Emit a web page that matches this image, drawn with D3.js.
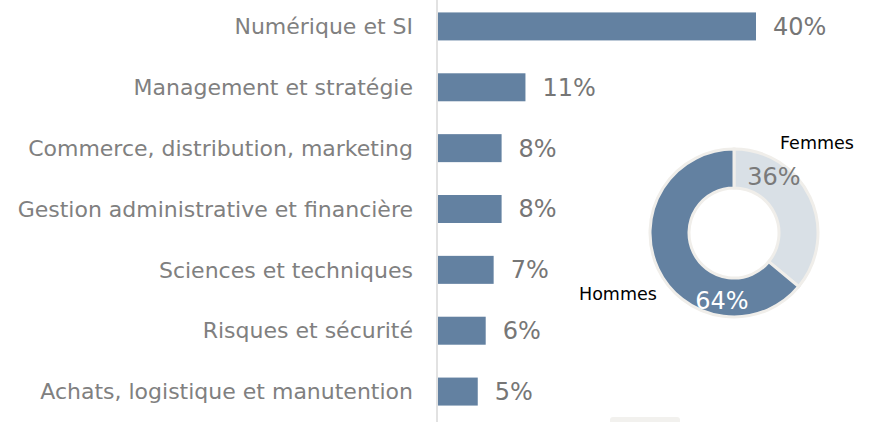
<!DOCTYPE html>
<html>
<head>
<meta charset="utf-8">
<script src="https://cdn.jsdelivr.net/npm/d3@7"></script>
<style>
  body { margin: 0; background: #fff; }
  text { font-family: "DejaVu Sans", sans-serif; }
</style>
</head>
<body>
<div id="chart"></div>
<script>
var categories = [
  "Numérique et SI",
  "Management et stratégie",
  "Commerce, distribution, marketing",
  "Gestion administrative et financière",
  "Sciences et techniques",
  "Risques et sécurité",
  "Achats, logistique et manutention"
];
var shares = [40, 11, 8, 8, 7, 6, 5];

var genders = ["Femmes", "Hommes"];
var genderShares = [36, 64];

var svgWidth = 872;
var svgHeight = 422;

var svg = d3.select("#chart")
  .append("svg")
  .attr("width", svgWidth)
  .attr("height", svgHeight);

// bar chart
var x = d3.scaleLinear()
  .domain([0, 40])
  .range([438, 756]);

var y = d3.scaleBand()
  .domain(categories)
  .range([-4, 422])
  .paddingInner(0.54)
  .paddingOuter(0.27);

svg.append("line")
  .attr("x1", 437).attr("x2", 437)
  .attr("y1", 0).attr("y2", svgHeight)
  .attr("stroke", "#d9d9d9")
  .attr("stroke-width", 1.5);

svg.selectAll(".bar")
  .data(categories)
  .enter()
  .append("rect")
  .attr("class", "bar")
  .attr("x", x(0))
  .attr("y", d => y(d))
  .attr("width", (d, i) => x(shares[i]) - x(0))
  .attr("height", y.bandwidth())
  .attr("fill", "#6381a1");

svg.selectAll(".cat")
  .data(categories)
  .enter()
  .append("text")
  .attr("class", "cat")
  .attr("x", 413)
  .attr("y", d => y(d) + y.bandwidth() / 2)
  .attr("dy", "0.35em")
  .attr("text-anchor", "end")
  .attr("font-size", "22px")
  .attr("fill", "#808080")
  .text(d => d);

svg.selectAll(".val")
  .data(categories)
  .enter()
  .append("text")
  .attr("class", "val")
  .attr("x", (d, i) => x(shares[i]) + 17)
  .attr("y", d => y(d) + y.bandwidth() / 2)
  .attr("dy", "0.35em")
  .attr("font-size", "24px")
  .attr("fill", "#767676")
  .text((d, i) => shares[i] + "%");

// small grey tab at the bottom
svg.append("rect")
  .attr("x", 610).attr("y", 417)
  .attr("width", 70).attr("height", 10)
  .attr("rx", 3)
  .attr("fill", "#f2f1ee");

// donut
var cx = 734, cy = 233;
var pie = d3.pie().sort(null)(genderShares);
var arc = d3.arc().innerRadius(45).outerRadius(84);
var donut = svg.append("g").attr("transform", `translate(${cx}, ${cy})`);

donut.selectAll("path")
  .data(pie)
  .enter()
  .append("path")
  .attr("d", arc)
  .attr("fill", (d, i) => i === 0 ? "#d9e0e6" : "#6381a1")
  .attr("stroke", "#f0eeea")
  .attr("stroke-width", 3);

donut.append("text")
  .attr("x", 40).attr("y", -56)
  .attr("dy", "0.35em")
  .attr("text-anchor", "middle")
  .attr("font-size", "24px")
  .attr("fill", "#7a7a7a")
  .text(genderShares[0] + "%");

donut.append("text")
  .attr("x", -12).attr("y", 68)
  .attr("dy", "0.35em")
  .attr("text-anchor", "middle")
  .attr("font-size", "24px")
  .attr("fill", "#ffffff")
  .text(genderShares[1] + "%");

svg.append("text")
  .attr("x", 780).attr("y", 149)
  .attr("font-size", "17.5px")
  .attr("fill", "#000")
  .text(genders[0]);

svg.append("text")
  .attr("x", 579).attr("y", 300)
  .attr("font-size", "17.5px")
  .attr("fill", "#000")
  .text(genders[1]);
</script>
</body>
</html>
